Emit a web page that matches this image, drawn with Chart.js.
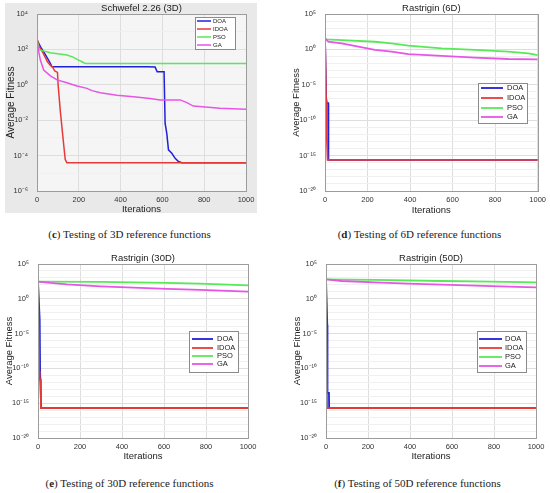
<!DOCTYPE html>
<html>
<head>
<meta charset="utf-8">
<script src="https://cdn.jsdelivr.net/npm/chart.js@4.4.1/dist/chart.umd.min.js"></script>
<style>
  body { margin: 0; background: #fff; width: 550px; height: 493px; position: relative; overflow: hidden; }
  canvas { position: absolute; }
  .cap { position: absolute; width: 275px; text-align: center; line-height: 13px;
         font-family: 'Liberation Serif', 'DejaVu Serif', serif; font-size: 11px; color: #222; }
</style>
</head>
<body>
<canvas id="chartC" width="275" height="222" style="left:0;top:0"></canvas>
<canvas id="chartD" width="275" height="222" style="left:275px;top:0"></canvas>
<canvas id="chartE" width="275" height="222" style="left:0;top:245px"></canvas>
<canvas id="chartF" width="275" height="222" style="left:275px;top:245px"></canvas>
<div class="cap" style="left:-8px;top:228px">(<b>c</b>) Testing of 3D reference functions</div>
<div class="cap" style="left:282px;top:228px">(<b>d</b>) Testing of 6D reference functions</div>
<div class="cap" style="left:-8px;top:477px">(<b>e</b>) Testing of 30D reference functions</div>
<div class="cap" style="left:280px;top:477px">(<b>f</b>) Testing of 50D reference functions</div>
<script>
// series labels and x ticks
const algorithms = ['DOA', 'IDOA', 'PSO', 'GA'];
const iterTicks = [0, 200, 400, 600, 800, 1000];

// (c) Schwefel 2.26 (3D)  [iteration, fitness]
const schwefelDOA = [[0, 350], [20, 120], [40, 50], [60, 20], [72, 10.5], [530, 10.5], [565, 10], [575, 5.5],
  [608, 5.5], [613, 0.0066], [621, 0.0018], [629, 2.1e-4], [645, 1.35e-4], [661, 7e-5], [677, 4.6e-5], [693, 4e-5], [1000, 4e-5]];
const schwefelIDOA = [[0, 400], [10, 150], [30, 60], [50, 20], [65, 12], [75, 10], [85, 6], [98, 5], [101, 1],
  [106, 0.2], [111, 0.038], [119, 0.0043], [127, 5e-4], [135, 6e-5], [143, 4e-5], [1000, 4e-5]];
const schwefelPSO = [[0, 350], [8, 120], [13, 93], [64, 65], [143, 48], [170, 38], [199, 25], [215, 20], [231, 16], [1000, 16]];
const schwefelGA = [[0, 370], [5, 120], [16, 25], [32, 6.9], [64, 3.2], [96, 1.9], [143, 1.3], [191, 0.85], [239, 0.63],
  [263, 0.47], [303, 0.36], [382, 0.26], [462, 0.21], [541, 0.17], [589, 0.14], [685, 0.14], [717, 0.098],
  [748, 0.063], [876, 0.047], [1000, 0.041]];

// (d) Rastrigin (6D)
const rast6DOA = [[0, 36], [6, 2.5e-8], [15, 2.5e-8], [16, 2.5e-16], [1000, 2.5e-16]];
const rast6IDOA = [[0, 36], [5, 8e-8], [8, 1.3e-12], [12, 2.5e-16], [1000, 2.5e-16]];
const rast6PSO = [[0, 32], [8, 26], [80, 20], [235, 12], [313, 7.2], [392, 3.4], [549, 1.4], [705, 0.83], [862, 0.48], [956, 0.28], [1000, 0.16]];
const rast6GA = [[0, 36], [16, 12], [78, 7.2], [157, 2.5], [235, 0.83], [313, 0.48], [392, 0.22], [549, 0.12], [705, 0.068], [862, 0.044], [1000, 0.04]];

// (e) Rastrigin (30D)
const rast30DOA = [[0, 295], [8, 1e-3], [10, 4e-11], [13, 4e-11], [15, 2e-16], [1000, 2e-16]];
const rast30IDOA = [[0, 295], [6, 4e-11], [8, 2.5e-12], [13, 2.5e-12], [14, 2e-16], [1000, 2e-16]];
const rast30PSO = [[0, 295], [297, 263], [456, 234], [614, 190], [773, 151], [1000, 87]];
const rast30GA = [[0, 295], [59, 190], [138, 120], [297, 63], [456, 41], [614, 26], [773, 19], [1000, 11]];

// (f) Rastrigin (50D)
const rast50DOA = [[0, 630], [6, 1.8e-4], [7, 3e-14], [14, 3e-14], [15, 2e-16], [1000, 2e-16]];
const rast50IDOA = [[0, 630], [5, 2e-16], [1000, 2e-16]];
const rast50PSO = [[0, 630], [233, 510], [551, 360], [789, 295], [1000, 234]];
const rast50GA = [[0, 630], [75, 360], [233, 234], [392, 151], [551, 110], [710, 78], [868, 56], [1000, 45]];

const colors = ['#2020d8', '#e63a3a', '#58e858', '#e655e6'];
const font = '"Liberation Sans", Arial, sans-serif';

const supMap = { '-': '⁻', '0': '⁰', '1': '¹', '2': '²', '3': '³', '4': '⁴', '5': '⁵', '6': '⁶', '7': '⁷', '8': '⁸', '9': '⁹' };
function powLabel(e) {
    return '10' + String(e).split('').map(ch => supMap[ch]).join('');
}
function expOf(v) {
    return Math.round(Math.log10(v));
}

// plot frame, backgrounds
const framePlugin = {
    id: 'frame',
    beforeDraw(chart, args, opts) {
        const ctx = chart.ctx, a = chart.chartArea;
        ctx.save();
        if (opts.panelBg) {
            ctx.fillStyle = opts.panelBg;
            ctx.fillRect(5, 3, 252, 210);
        }
        ctx.fillStyle = opts.plotBg || '#fff';
        ctx.fillRect(a.left, a.top, a.right - a.left, a.bottom - a.top);
        ctx.restore();
    },
    afterDraw(chart) {
        const ctx = chart.ctx, a = chart.chartArea;
        ctx.save();
        ctx.strokeStyle = '#9c9c9c';
        ctx.lineWidth = 1;
        ctx.strokeRect(Math.round(a.left) + 0.5, Math.round(a.top) + 0.5, Math.round(a.right - a.left), Math.round(a.bottom - a.top));
        ctx.restore();
    }
};

// boxed legend inside the plot
const boxLegend = {
    id: 'boxLegend',
    afterDatasetsDraw(chart, args, o) {
        const ctx = chart.ctx;
        ctx.save();
        ctx.fillStyle = '#fff';
        ctx.fillRect(o.x, o.y, o.w, o.h);
        ctx.strokeStyle = '#8a8a8a';
        ctx.lineWidth = 1;
        ctx.strokeRect(o.x + 0.5, o.y + 0.5, o.w, o.h);
        ctx.font = o.size + 'px ' + font;
        ctx.textBaseline = 'middle';
        chart.data.datasets.forEach((ds, i) => {
            const y = o.rows[i];
            ctx.strokeStyle = ds.borderColor;
            ctx.lineWidth = ds.borderWidth;
            ctx.beginPath();
            ctx.moveTo(o.lineX0, y);
            ctx.lineTo(o.lineX1, y);
            ctx.stroke();
            ctx.fillStyle = '#1a1a1a';
            ctx.fillText(ds.label, o.textX, y);
        });
        ctx.restore();
    }
};

function makeChart(id, p) {
    const series = p.series;
    return new Chart(document.getElementById(id), {
        type: 'line',
        data: {
            datasets: series.map((s, i) => ({
                label: algorithms[i],
                data: s.map(pt => ({ x: pt[0], y: pt[1] })),
                borderColor: colors[i],
                borderWidth: p.lineWidth,
                pointRadius: 0,
                tension: 0,
                fill: false,
                order: 4 - i
            }))
        },
        plugins: [framePlugin, boxLegend],
        options: {
            responsive: false,
            animation: false,
            layout: { padding: { left: 0, right: 275 - p.area.right, top: 0, bottom: 0 } },
            scales: {
                x: {
                    type: 'linear',
                    min: 0,
                    max: 1000,
                    afterBuildTicks: scale => { scale.ticks = iterTicks.map(v => ({ value: v })); },
                    afterFit: scale => { scale.height = 222 - p.area.bottom; },
                    grid: { color: '#dedede', drawTicks: false },
                    border: { display: false },
                    ticks: { padding: 4, color: '#333', font: { size: 7.5, family: font }, callback: v => String(v) },
                    title: { display: true, text: 'Iterations', color: '#222', font: { size: 9.5, family: font },
                             padding: { top: 0, bottom: p.xTitleBottom } }
                },
                y: {
                    type: 'logarithmic',
                    min: Math.pow(10, p.yMin),
                    max: Math.pow(10, p.yMax),
                    afterBuildTicks: scale => {
                        const t = [];
                        for (let e = p.yMin; e <= p.yMax; e++) t.push({ value: Math.pow(10, e) });
                        scale.ticks = t;
                    },
                    afterFit: scale => { scale.width = p.area.left; },
                    grid: {
                        drawTicks: false,
                        color: c => (expOf(c.tick.value) - p.yMin) % p.yStep === 0 ? '#dedede' : '#f0f0f0'
                    },
                    border: { display: false },
                    ticks: {
                        padding: p.yPad,
                        color: '#333',
                        font: { size: 7.5, family: font },
                        autoSkip: false,
                        callback: v => ((expOf(v) - p.yMin) % p.yStep === 0 ? powLabel(expOf(v)) : '')
                    },
                    title: { display: true, text: 'Average Fitness', color: '#222', font: { size: p.yTitleSize, family: font },
                             padding: { top: p.yTitleTop, bottom: 0 } }
                }
            },
            plugins: {
                legend: { display: false },
                tooltip: { enabled: false },
                title: {
                    display: true,
                    text: p.title,
                    fullSize: false,
                    color: '#1a1a1a',
                    font: { size: 9.5, family: font, weight: 'normal', lineHeight: 1 },
                    padding: { top: p.area.top - 10, bottom: 0.5 }
                },
                frame: { panelBg: p.panelBg, plotBg: p.plotBg },
                boxLegend: p.legend
            }
        }
    });
}

makeChart('chartC', {
    title: 'Schwefel 2.26 (3D)',
    series: [schwefelDOA, schwefelIDOA, schwefelPSO, schwefelGA],
    yMin: -6, yMax: 4, yStep: 2, yPad: 9,
    area: { left: 37, right: 246, top: 14, bottom: 191 },
    xTitleBottom: 6.5, yTitleSize: 10, yTitleTop: 5,
    lineWidth: 1.5,
    panelBg: '#e9e9e9', plotBg: '#f5f5f5',
    legend: { x: 195, y: 17, w: 40, h: 32, size: 6, rows: [21, 29, 37, 45], lineX0: 197, lineX1: 211, textX: 213 }
});

makeChart('chartD', {
    title: 'Rastrigin (6D)',
    series: [rast6DOA, rast6IDOA, rast6PSO, rast6GA],
    yMin: -20, yMax: 5, yStep: 5, yPad: 9,
    area: { left: 50, right: 263, top: 14, bottom: 191 },
    xTitleBottom: 6, yTitleSize: 9.5, yTitleTop: 15.5,
    lineWidth: 1.8,
    legend: { x: 203, y: 83, w: 49, h: 40, size: 7.5, rows: [88, 98, 108, 117], lineX0: 206, lineX1: 228, textX: 232 }
});

makeChart('chartE', {
    title: 'Rastrigin (30D)',
    series: [rast30DOA, rast30IDOA, rast30PSO, rast30GA],
    yMin: -20, yMax: 5, yStep: 5, yPad: 9,
    area: { left: 38, right: 248, top: 19, bottom: 193 },
    xTitleBottom: 5, yTitleSize: 9.5, yTitleTop: 4,
    lineWidth: 1.8,
    legend: { x: 189, y: 86, w: 49, h: 41, size: 7.5, rows: [94, 103, 111, 119], lineX0: 192, lineX1: 213, textX: 217 }
});

makeChart('chartF', {
    title: 'Rastrigin (50D)',
    series: [rast50DOA, rast50IDOA, rast50PSO, rast50GA],
    yMin: -20, yMax: 5, yStep: 5, yPad: 9,
    area: { left: 51, right: 261, top: 19, bottom: 193 },
    xTitleBottom: 5, yTitleSize: 9.5, yTitleTop: 17,
    lineWidth: 1.8,
    legend: { x: 202, y: 86, w: 49, h: 41, size: 7.5, rows: [94, 103, 112, 121], lineX0: 204, lineX1: 227, textX: 230 }
});
</script>
</body>
</html>
